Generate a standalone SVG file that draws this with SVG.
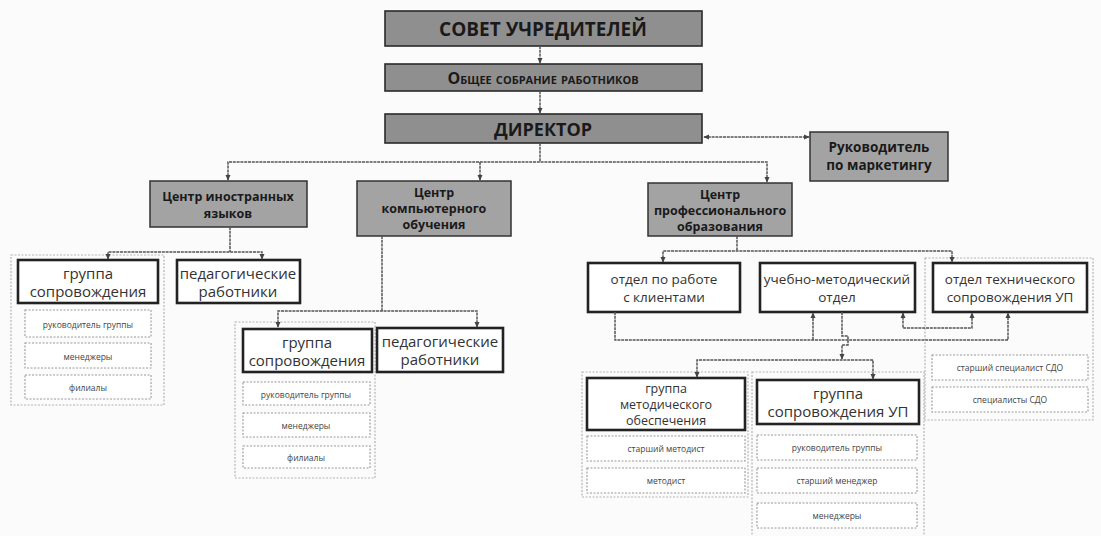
<svg xmlns="http://www.w3.org/2000/svg" width="1101" height="536" viewBox="0 0 1101 536">
<defs>
<marker id="ah" viewBox="0 0 8 8" refX="7" refY="4" markerWidth="6" markerHeight="6" orient="auto-start-reverse" markerUnits="userSpaceOnUse">
<path d="M0,0.5 L8,4 L0,7.5 z" fill="#444"/>
</marker>
<style>
text{font-family:"Open Sans","DejaVu Sans",sans-serif;fill:#1a1a1a;text-anchor:middle;dominant-baseline:central}
.top{fill:#8f8f8f;stroke:#2a2a2a;stroke-width:1.6}
.gray{fill:#a3a3a3;stroke:#333;stroke-width:1.5}
.solid{fill:#fff;stroke:#222;stroke-width:2.6}
.cont{fill:none;stroke:#b5b5b5;stroke-width:1.2;stroke-dasharray:2 1.5}
.item{fill:#fff;stroke:#9a9a9a;stroke-width:1.1;stroke-dasharray:2 1.5}
.tb{font-weight:700}
.g{font-size:12.5px;font-weight:700}
.w{font-size:15px;fill:#333}
.w3{font-size:12.5px;fill:#333}
.w2{font-size:13.5px;fill:#333}
.it{font-size:8.5px;fill:#444}
.con path,.con line{fill:none;stroke:#555;stroke-width:1.5;stroke-dasharray:3 0.8}
</style>
</defs>
<rect width="1101" height="536" fill="#fbfbfb"/>

<g id="sovet"><rect class="top" x="385" y="11" width="317" height="35"/><text class="tb" x="543" y="29" font-size="19">СОВЕТ УЧРЕДИТЕЛЕЙ</text></g>
<g id="sobranie"><rect class="top" x="385" y="64" width="317" height="27"/><text class="tb" x="543" y="78" font-size="16" font-variant="small-caps">Общее собрание работников</text></g>
<g id="direktor"><rect class="top" x="385" y="114" width="317" height="29"/><text class="tb" x="543" y="129" font-size="18">ДИРЕКТОР</text></g>
<g id="marketing"><rect class="gray" x="810" y="132" width="138" height="49"/><text class="g" x="879" y="147" style="font-size:13.5px">Руководитель</text><text class="g" x="879" y="165" style="font-size:13.5px">по маркетингу</text></g>

<g id="c-lang"><rect class="gray" x="150" y="181" width="157" height="46"/><text class="g" x="228" y="196">Центр иностранных</text><text class="g" x="228" y="213">языков</text></g>
<g id="c-comp"><rect class="gray" x="357" y="181" width="154" height="55"/><text class="g" x="434" y="192">Центр</text><text class="g" x="434" y="208">компьютерного</text><text class="g" x="434" y="224">обучения</text></g>
<g id="c-prof"><rect class="gray" x="648" y="183" width="144" height="53"/><text class="g" x="720" y="194">Центр</text><text class="g" x="720" y="210">профессионального</text><text class="g" x="720" y="226">образования</text></g>

<g id="grpA">
<rect class="cont" x="11" y="255" width="153" height="150"/>
<rect class="solid" x="18" y="260" width="140" height="43"/><text class="w" x="88" y="273">группа</text><text class="w" x="88" y="291">сопровождения</text>
<rect class="item" x="25" y="310" width="126" height="27"/><text class="it" x="88" y="324">руководитель группы</text>
<rect class="item" x="25" y="343" width="126" height="25"/><text class="it" x="88" y="356">менеджеры</text>
<rect class="item" x="25" y="375" width="126" height="24"/><text class="it" x="88" y="387">филиалы</text>
</g>
<g id="pedA"><rect class="solid" x="177" y="260" width="123" height="43"/><text class="w" x="238" y="273">педагогические</text><text class="w" x="238" y="291">работники</text></g>

<g id="grpB">
<rect class="cont" x="235" y="322" width="140" height="156"/>
<rect class="solid" x="243" y="329" width="129" height="43"/><text class="w" x="307" y="342">группа</text><text class="w" x="307" y="360">сопровождения</text>
<rect class="item" x="243" y="382" width="127" height="23"/><text class="it" x="306" y="394">руководитель группы</text>
<rect class="item" x="243" y="413" width="127" height="24"/><text class="it" x="306" y="425">менеджеры</text>
<rect class="item" x="243" y="446" width="127" height="22"/><text class="it" x="306" y="457">филиалы</text>
</g>
<g id="pedB"><rect class="solid" x="377" y="328" width="126" height="44"/><text class="w" x="440" y="341">педагогические</text><text class="w" x="440" y="359">работники</text></g>

<g id="otdel-klient"><rect class="solid" x="588" y="263" width="152" height="49"/><text class="w2" x="664" y="279">отдел по работе</text><text class="w2" x="664" y="297">с клиентами</text></g>
<g id="otdel-um"><rect class="solid" x="760" y="263" width="155" height="49"/><text class="w2" x="837" y="279">учебно-методический</text><text class="w2" x="837" y="297">отдел</text></g>
<g id="otdel-tech">
<rect class="cont" x="925" y="258" width="168" height="162"/>
<rect class="solid" x="933" y="263" width="154" height="49"/><text class="w2" x="1010" y="279">отдел технического</text><text class="w2" x="1010" y="297">сопровождения УП</text>
<rect class="item" x="932" y="355" width="156" height="25"/><text class="it" x="1010" y="367">старший специалист СДО</text>
<rect class="item" x="932" y="387" width="156" height="25"/><text class="it" x="1010" y="399">специалисты СДО</text>
</g>

<g id="grp-met">
<rect class="cont" x="582" y="372" width="166" height="125"/>
<rect class="solid" x="587" y="378" width="158" height="52"/><text class="w3" x="666" y="388">группа</text><text class="w3" x="666" y="404">методического</text><text class="w3" x="666" y="420">обеспечения</text>
<rect class="item" x="587" y="436" width="158" height="25"/><text class="it" x="666" y="448">старший методист</text>
<rect class="item" x="587" y="468" width="158" height="25"/><text class="it" x="666" y="480">методист</text>
</g>
<g id="grp-up">
<rect class="cont" x="752" y="372" width="172" height="170"/>
<rect class="solid" x="757" y="380" width="162" height="44"/><text class="w" x="838" y="393">группа</text><text class="w" x="838" y="411">сопровождения УП</text>
<rect class="item" x="757" y="435" width="160" height="25"/><text class="it" x="837" y="447">руководитель группы</text>
<rect class="item" x="757" y="468" width="160" height="25"/><text class="it" x="837" y="480">старший менеджер</text>
<rect class="item" x="757" y="503" width="160" height="25"/><text class="it" x="837" y="515">менеджеры</text>
</g>

<g id="connectors" class="con">
<line x1="540" y1="46" x2="540" y2="63" marker-end="url(#ah)"/>
<line x1="540" y1="91" x2="540" y2="113" marker-end="url(#ah)"/>
<line x1="704" y1="137" x2="809" y2="137" marker-start="url(#ah)" marker-end="url(#ah)"/>
<line x1="540" y1="143" x2="540" y2="162"/>
<path d="M228,180 V162 H767 V182" marker-start="url(#ah)" marker-end="url(#ah)"/>
<line x1="480" y1="162" x2="480" y2="180" marker-end="url(#ah)"/>
<line x1="230" y1="227" x2="230" y2="252"/>
<path d="M108,259 V252 H262 V259" marker-start="url(#ah)" marker-end="url(#ah)"/>
<line x1="382" y1="236" x2="382" y2="311"/>
<path d="M278,327 V311 H477 V327" marker-start="url(#ah)" marker-end="url(#ah)"/>
<line x1="737" y1="236" x2="737" y2="251"/>
<path d="M663,262 V251 H952 V262" marker-start="url(#ah)" marker-end="url(#ah)"/>
<path d="M615,312 V340 H1008 V313" marker-end="url(#ah)"/>
<line x1="813" y1="340" x2="813" y2="313" marker-end="url(#ah)"/>
<path d="M903,313 V328 H972 V313" marker-start="url(#ah)" marker-end="url(#ah)"/>
<path d="M842,312 V336 H848 V345 H842 V359" marker-end="url(#ah)"/>
<path d="M697,377 V360 H873 V379" marker-start="url(#ah)" marker-end="url(#ah)"/>
</g>
</svg>
